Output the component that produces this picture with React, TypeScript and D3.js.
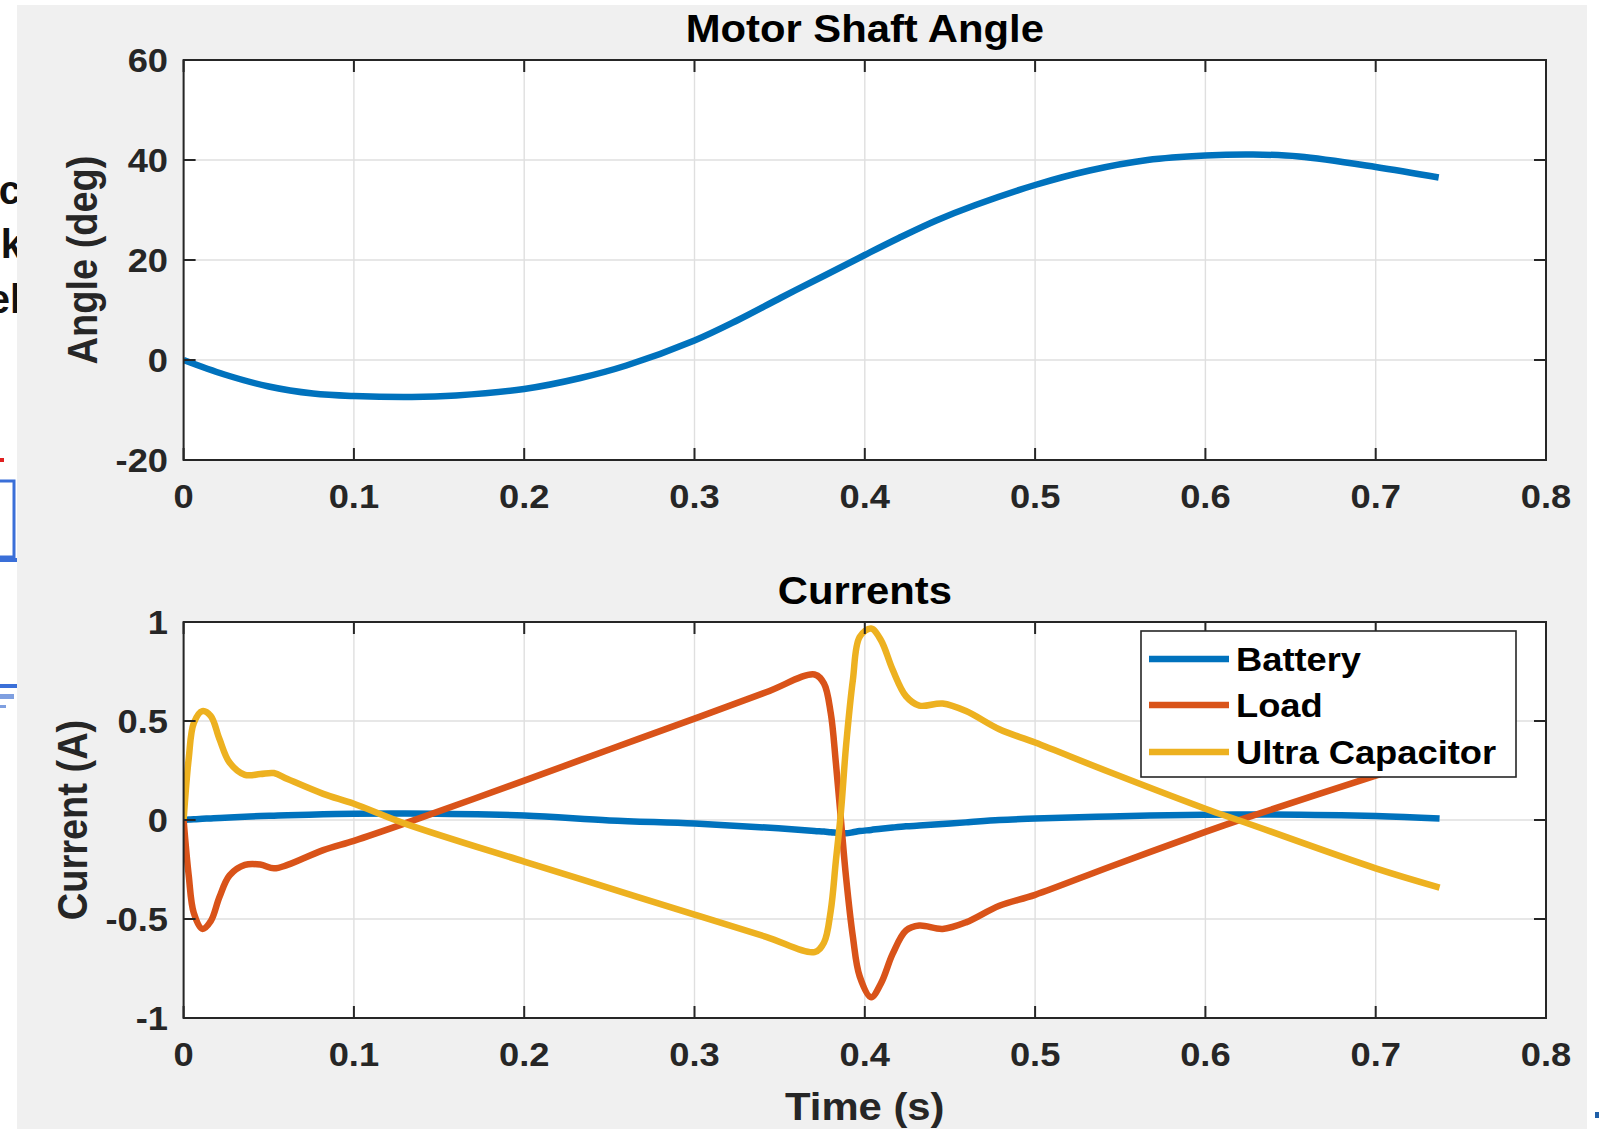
import React from 'react';
import * as d3 from 'd3';

// ---------- data ----------
const angleTime = [0, 0.024, 0.05, 0.076, 0.1, 0.134, 0.16, 0.2, 0.233, 0.26, 0.3, 0.325, 0.351, 0.377, 0.4, 0.42, 0.442, 0.465, 0.5, 0.532, 0.566, 0.6, 0.628, 0.655, 0.7, 0.737];
const angleDeg = [0, -2.9, -5.3, -6.7, -7.2, -7.4, -7.1, -5.8, -3.6, -1.1, 3.9, 7.9, 12.5, 17.0, 21.0, 24.4, 27.9, 31.0, 35.0, 37.9, 40.0, 40.9, 41.1, 40.7, 38.6, 36.5];

const currentTime = [0, 0.003, 0.006, 0.011, 0.016, 0.021, 0.027, 0.036, 0.045, 0.053, 0.061, 0.082, 0.1, 0.13, 0.2, 0.25, 0.3, 0.342, 0.3705, 0.376, 0.38, 0.383, 0.386, 0.389, 0.393, 0.397, 0.4037, 0.4095, 0.4164, 0.4242, 0.432, 0.4457, 0.4594, 0.479, 0.5, 0.544, 0.6, 0.6225, 0.7, 0.7375];
const batteryCurrent = [0, 0.002, 0.004, 0.006, 0.008, 0.01, 0.013, 0.017, 0.02, 0.022, 0.024, 0.029, 0.032, 0.033, 0.023, -0.002, -0.018, -0.038, -0.055, -0.058, -0.062, -0.064, -0.066, -0.067, -0.062, -0.056, -0.05, -0.044, -0.038, -0.032, -0.028, -0.02, -0.012, 0.0, 0.007, 0.018, 0.027, 0.028, 0.02, 0.007];
const loadCurrent = [0, -0.28, -0.47, -0.55, -0.51, -0.39, -0.28, -0.227, -0.225, -0.244, -0.227, -0.152, -0.105, -0.017, 0.199, 0.356, 0.512, 0.645, 0.735, 0.69, 0.54, 0.29, 0.0, -0.29, -0.59, -0.79, -0.895, -0.825, -0.675, -0.558, -0.533, -0.55, -0.517, -0.433, -0.378, -0.236, -0.06, 0.007, 0.224, 0.33];
const ucCurrent = [0, 0.31, 0.49, 0.55, 0.525, 0.41, 0.29, 0.228, 0.232, 0.237, 0.207, 0.132, 0.082, -0.018, -0.21, -0.344, -0.478, -0.59, -0.667, -0.62, -0.458, -0.208, 0.042, 0.375, 0.708, 0.925, 0.967, 0.908, 0.758, 0.625, 0.578, 0.588, 0.55, 0.458, 0.391, 0.241, 0.057, -0.01, -0.244, -0.341];

const xTicks = [0, 0.1, 0.2, 0.3, 0.4, 0.5, 0.6, 0.7, 0.8];
const xTickLabels = ['0', '0.1', '0.2', '0.3', '0.4', '0.5', '0.6', '0.7', '0.8'];
const angleTicks = [-20, 0, 20, 40, 60];
const angleTickLabels = ['-20', '0', '20', '40', '60'];
const currentTicks = [-1, -0.5, 0, 0.5, 1];
const currentTickLabels = ['-1', '-0.5', '0', '0.5', '1'];
const seriesNames = ['Battery', 'Load', 'Ultra Capacitor'];
const seriesColors = ['#0072BD', '#D95319', '#EDB120'];

// ---------- layout ----------
const W = 1599;
const H = 1131;
const X0 = 183.6;
const X1 = 1546;
const FONT = "'Liberation Sans', Arial, Helvetica, sans-serif";
const AX = '#262626';
const GRID = '#dfdfdf';
const TICK_FS = 33;
const LABEL_FS = 38;

function Txt(props: { x: number; y: number; anchor?: string; size: number; rot?: boolean; fill?: string; children: React.ReactNode }) {
  const { x, y, anchor = 'start', size, rot, fill = AX, children } = props;
  return (
    <text
      transform={`translate(${x},${y}) scale(1.1,1)${rot ? ' rotate(-90)' : ''}`}
      textAnchor={anchor as any}
      fontSize={size}
      fontWeight="bold"
      fontFamily={FONT}
      fill={fill}
    >
      {children}
    </text>
  );
}

function Axes(props: {
  top: number;
  bottom: number;
  yDomain: [number, number];
  yTicks: number[];
  yTickLabels: string[];
  title: string;
  ylabel: string;
  ylabelX: number;
  clipId: string;
  children: (x: d3.ScaleLinear<number, number>, y: d3.ScaleLinear<number, number>) => React.ReactNode;
}) {
  const { top, bottom, yDomain, yTicks, yTickLabels, title, ylabel, ylabelX, clipId } = props;
  const x = d3.scaleLinear().domain([0, 0.8]).range([X0, X1]);
  const y = d3.scaleLinear().domain(yDomain).range([bottom, top]);
  const tl = 12;
  return (
    <g>
      <rect x={X0} y={top} width={X1 - X0} height={bottom - top} fill="#ffffff" />
      {xTicks.map((t) => (
        <line key={'gx' + t} x1={x(t)} x2={x(t)} y1={top} y2={bottom} stroke={GRID} strokeWidth={1.4} />
      ))}
      {yTicks.map((t) => (
        <line key={'gy' + t} x1={X0} x2={X1} y1={y(t)} y2={y(t)} stroke={GRID} strokeWidth={1.4} />
      ))}
      <clipPath id={clipId}>
        <rect x={X0} y={top} width={X1 - X0} height={bottom - top} />
      </clipPath>
      <g clipPath={`url(#${clipId})`}>{props.children(x, y)}</g>
      {xTicks.map((t) => (
        <g key={'tx' + t}>
          <line x1={x(t)} x2={x(t)} y1={bottom} y2={bottom - tl} stroke={AX} strokeWidth={2} />
          <line x1={x(t)} x2={x(t)} y1={top} y2={top + tl} stroke={AX} strokeWidth={2} />
        </g>
      ))}
      {yTicks.map((t) => (
        <g key={'ty' + t}>
          <line x1={X0} x2={X0 + tl} y1={y(t)} y2={y(t)} stroke={AX} strokeWidth={2} />
          <line x1={X1} x2={X1 - tl} y1={y(t)} y2={y(t)} stroke={AX} strokeWidth={2} />
        </g>
      ))}
      <rect x={X0} y={top} width={X1 - X0} height={bottom - top} fill="none" stroke={AX} strokeWidth={2} />
      {xTicks.map((t, i) => (
        <Txt key={'lx' + t} x={x(t)} y={bottom + 48} anchor="middle" size={TICK_FS}>
          {xTickLabels[i]}
        </Txt>
      ))}
      {yTicks.map((t, i) => (
        <Txt key={'ly' + t} x={168} y={y(t) + 12} anchor="end" size={TICK_FS}>
          {yTickLabels[i]}
        </Txt>
      ))}
      <Txt x={(X0 + X1) / 2} y={top - 18} anchor="middle" size={LABEL_FS} fill="#000">
        {title}
      </Txt>
      <Txt x={ylabelX} y={(top + bottom) / 2} anchor="middle" size={LABEL_FS} rot>
        {ylabel}
      </Txt>
    </g>
  );
}

export default function App() {
  const curve = d3.curveCatmullRom.alpha(0.5);
  const anglePts = angleTime.map((t, i) => [t, angleDeg[i]] as [number, number]);
  const currentSeries = [batteryCurrent, loadCurrent, ucCurrent].map((vals) =>
    currentTime.map((t, i) => [t, vals[i]] as [number, number])
  );

  const legX = 1141;
  const legY = 631;
  const legW = 375;
  const legH = 146;
  const rowY = [659, 705, 752];

  return (
    <div style={{ position: 'absolute', left: 0, top: 0, width: W, height: H }}>
      <svg width={W} height={H} style={{ display: 'block' }}>
        <rect x={0} y={0} width={W} height={H} fill="#ffffff" />
        {/* partial window artifacts at left edge */}
        <g fontFamily={FONT} fontWeight="bold" fontSize={40} fill="#111">
          <text x={21} y={204} textAnchor="end">c</text>
          <text x={23} y={258} textAnchor="end">k</text>
          <text x={21} y={313} textAnchor="end">el</text>
        </g>
        <rect x={0} y={458} width={4} height={4} fill="#e02020" />
        <rect x={-10} y={481} width={24} height={76} fill="none" stroke="#3a6fd8" strokeWidth={3} />
        <rect x={0} y={558} width={17} height={4} fill="#3a6fd8" />
        <rect x={0} y={684} width={17} height={4} fill="#3a6fd8" />
        <rect x={0} y={694} width={14} height={5} fill="#7f9fe0" />
        <rect x={0} y={705} width={6} height={3} fill="#7f9fe0" />
        <rect x={1595} y={1112} width={4} height={6} fill="#1f5fa8" />
        {/* figure background */}
        <rect x={17} y={5} width={1587 - 17} height={1129 - 5} fill="#f0f0f0" />

        <Axes
          top={60}
          bottom={460}
          yDomain={[-20, 60]}
          yTicks={angleTicks}
          yTickLabels={angleTickLabels}
          title="Motor Shaft Angle"
          ylabel="Angle (deg)"
          ylabelX={97}
          clipId="clipTop"
        >
          {(x, y) => {
            const line = d3.line<[number, number]>().x((d) => x(d[0])).y((d) => y(d[1])).curve(curve);
            return <path d={line(anglePts) || ''} fill="none" stroke={seriesColors[0]} strokeWidth={6.5} strokeLinejoin="round" />;
          }}
        </Axes>

        <Axes
          top={622}
          bottom={1018}
          yDomain={[-1, 1]}
          yTicks={currentTicks}
          yTickLabels={currentTickLabels}
          title="Currents"
          ylabel="Current (A)"
          ylabelX={87}
          clipId="clipBottom"
        >
          {(x, y) => {
            const line = d3.line<[number, number]>().x((d) => x(d[0])).y((d) => y(d[1])).curve(curve);
            return currentSeries.map((pts, i) => (
              <path key={seriesNames[i]} d={line(pts) || ''} fill="none" stroke={seriesColors[i]} strokeWidth={6.5} strokeLinejoin="round" />
            ));
          }}
        </Axes>

        {/* legend */}
        <rect x={legX} y={legY} width={legW} height={legH} fill="#ffffff" stroke={AX} strokeWidth={1.6} />
        {seriesNames.map((name, i) => (
          <g key={name}>
            <line x1={1149} x2={1229} y1={rowY[i]} y2={rowY[i]} stroke={seriesColors[i]} strokeWidth={6.5} />
            <Txt x={1236} y={rowY[i] + 12} size={TICK_FS} fill="#000">
              {name}
            </Txt>
          </g>
        ))}

        <Txt x={(X0 + X1) / 2} y={1120} anchor="middle" size={LABEL_FS}>
          Time (s)
        </Txt>
      </svg>
    </div>
  );
}
